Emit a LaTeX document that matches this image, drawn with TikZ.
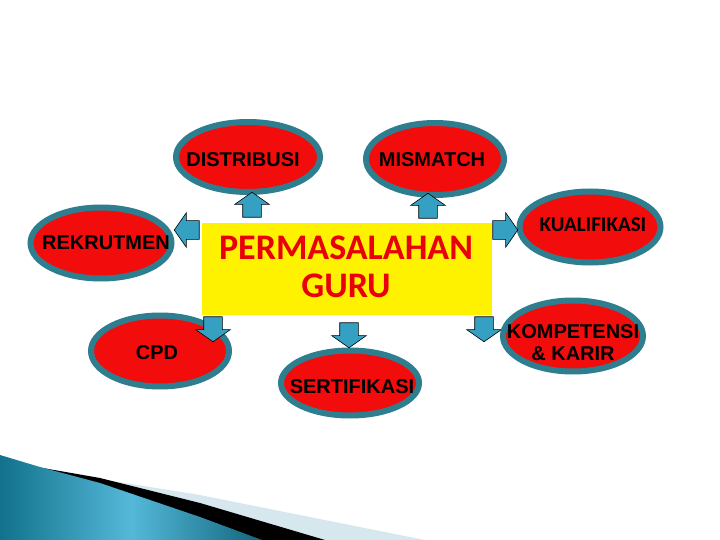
\documentclass[tikz,border=0pt]{standalone}
\usepackage{fontspec}
\setmainfont{Liberation Sans}
\newfontfamily\carl{Carlito}
\usetikzlibrary{shapes.geometric,shapes.arrows}
\definecolor{blobred}{HTML}{F20C0C}
\definecolor{blobedge}{HTML}{2E7E90}
\definecolor{arrowblue}{HTML}{35A0C2}
\definecolor{titlered}{HTML}{E8000B}
\definecolor{bandlight}{HTML}{D6E7EE}
\definecolor{tealdark}{HTML}{12728C}
\definecolor{teallight}{HTML}{55B8D8}
\begin{document}
\begin{tikzpicture}[x=1pt,y=-1pt,
  blob/.style={ellipse, draw=blobedge, line width=6pt, fill=blobred, inner sep=0pt},
  blobtext/.style={font=\bfseries\fontsize{20}{22}\selectfont, text=black, inner sep=0pt, align=center},
  barrow/.style={single arrow, draw=black, line width=0.6pt, fill=arrowblue, inner sep=0pt,
    minimum height=25pt, single arrow head extend=8pt, single arrow tip angle=110},
  titlebox/.style={fill=yellow, draw=none, minimum width=290pt, minimum height=91pt, inner sep=0pt}]
\useasboundingbox (0,0) rectangle (720,540);
\fill[white] (0,0) rectangle (720,540);

% bottom-left decoration
\fill[bandlight] (75,475) -- (200,495) -- (240,503) -- (425,540) -- (60,540) -- cycle;
\fill[black] (37,467) -- (100,478) -- (200,503) -- (325,540) -- (0,540) -- cycle;
\shade[left color=tealdark, right color=tealdark!90!black, middle color=teallight]
  (0,455) -- (40,467) -- (100,483) -- (200,517) -- (262,540) -- (0,540) -- cycle;

% central box
\node[titlebox] (box) at (347,269) {};
\node[font=\carl\bfseries\fontsize{36}{38}\selectfont, text=titlered, align=center, inner sep=0pt]
  (title) at (346,267) {PERMASALAHAN\\GURU};

% ellipses
\node[blob, minimum width=144pt, minimum height=70pt] (dist) at (248,157) {};
\node[blob, minimum width=138pt, minimum height=72pt] (mism) at (435,159) {};
\node[blob, minimum width=141pt, minimum height=71pt] (rekr) at (101,243) {};
\node[blob, minimum width=141pt, minimum height=71pt] (kual) at (590,227) {};
\node[blob, minimum width=138pt, minimum height=71pt] (cpd) at (160,351) {};
\node[blob, minimum width=138pt, minimum height=65pt] (sert) at (350,383) {};

% arrows
\node[barrow, rotate=90] (aup1) at (252,208) {\rule{0pt}{18pt}};
\node[barrow, rotate=90] (aup2) at (428,209) {\rule{0pt}{18pt}};
\node[barrow, rotate=180] (aleft) at (190,230) {\rule{0pt}{18pt}};
\node[barrow] (aright) at (502,230) {\rule{0pt}{18pt}};
\node[barrow, rotate=-90] (adown1) at (213,326) {\rule{0pt}{18pt}};
\node[barrow, rotate=-90] (adown2) at (349,332) {\rule{0pt}{18pt}};
\node[barrow, rotate=-90] (adown3) at (484,326) {\rule{0pt}{18pt}};

\node[blob, minimum width=140pt, minimum height=71pt] (komp) at (573,336) {};

% texts
\node[blobtext] (tdist) at (243,160) {DISTRIBUSI};
\node[blobtext] (tmism) at (432,160) {MISMATCH};
\node[blobtext] (trekr) at (106,243) {REKRUTMEN};
\node[blobtext, font=\carl\bfseries\fontsize{21}{23}\selectfont] (tkual) at (593,225) {KUALIFIKASI};
\node[blobtext] (tkomp) at (573,343) {KOMPETENSI\\\& KARIR};
\node[blobtext] (tcpd) at (157,353) {CPD};
\node[blobtext] (tsert) at (352,387) {SERTIFIKASI};
\end{tikzpicture}
\end{document}
